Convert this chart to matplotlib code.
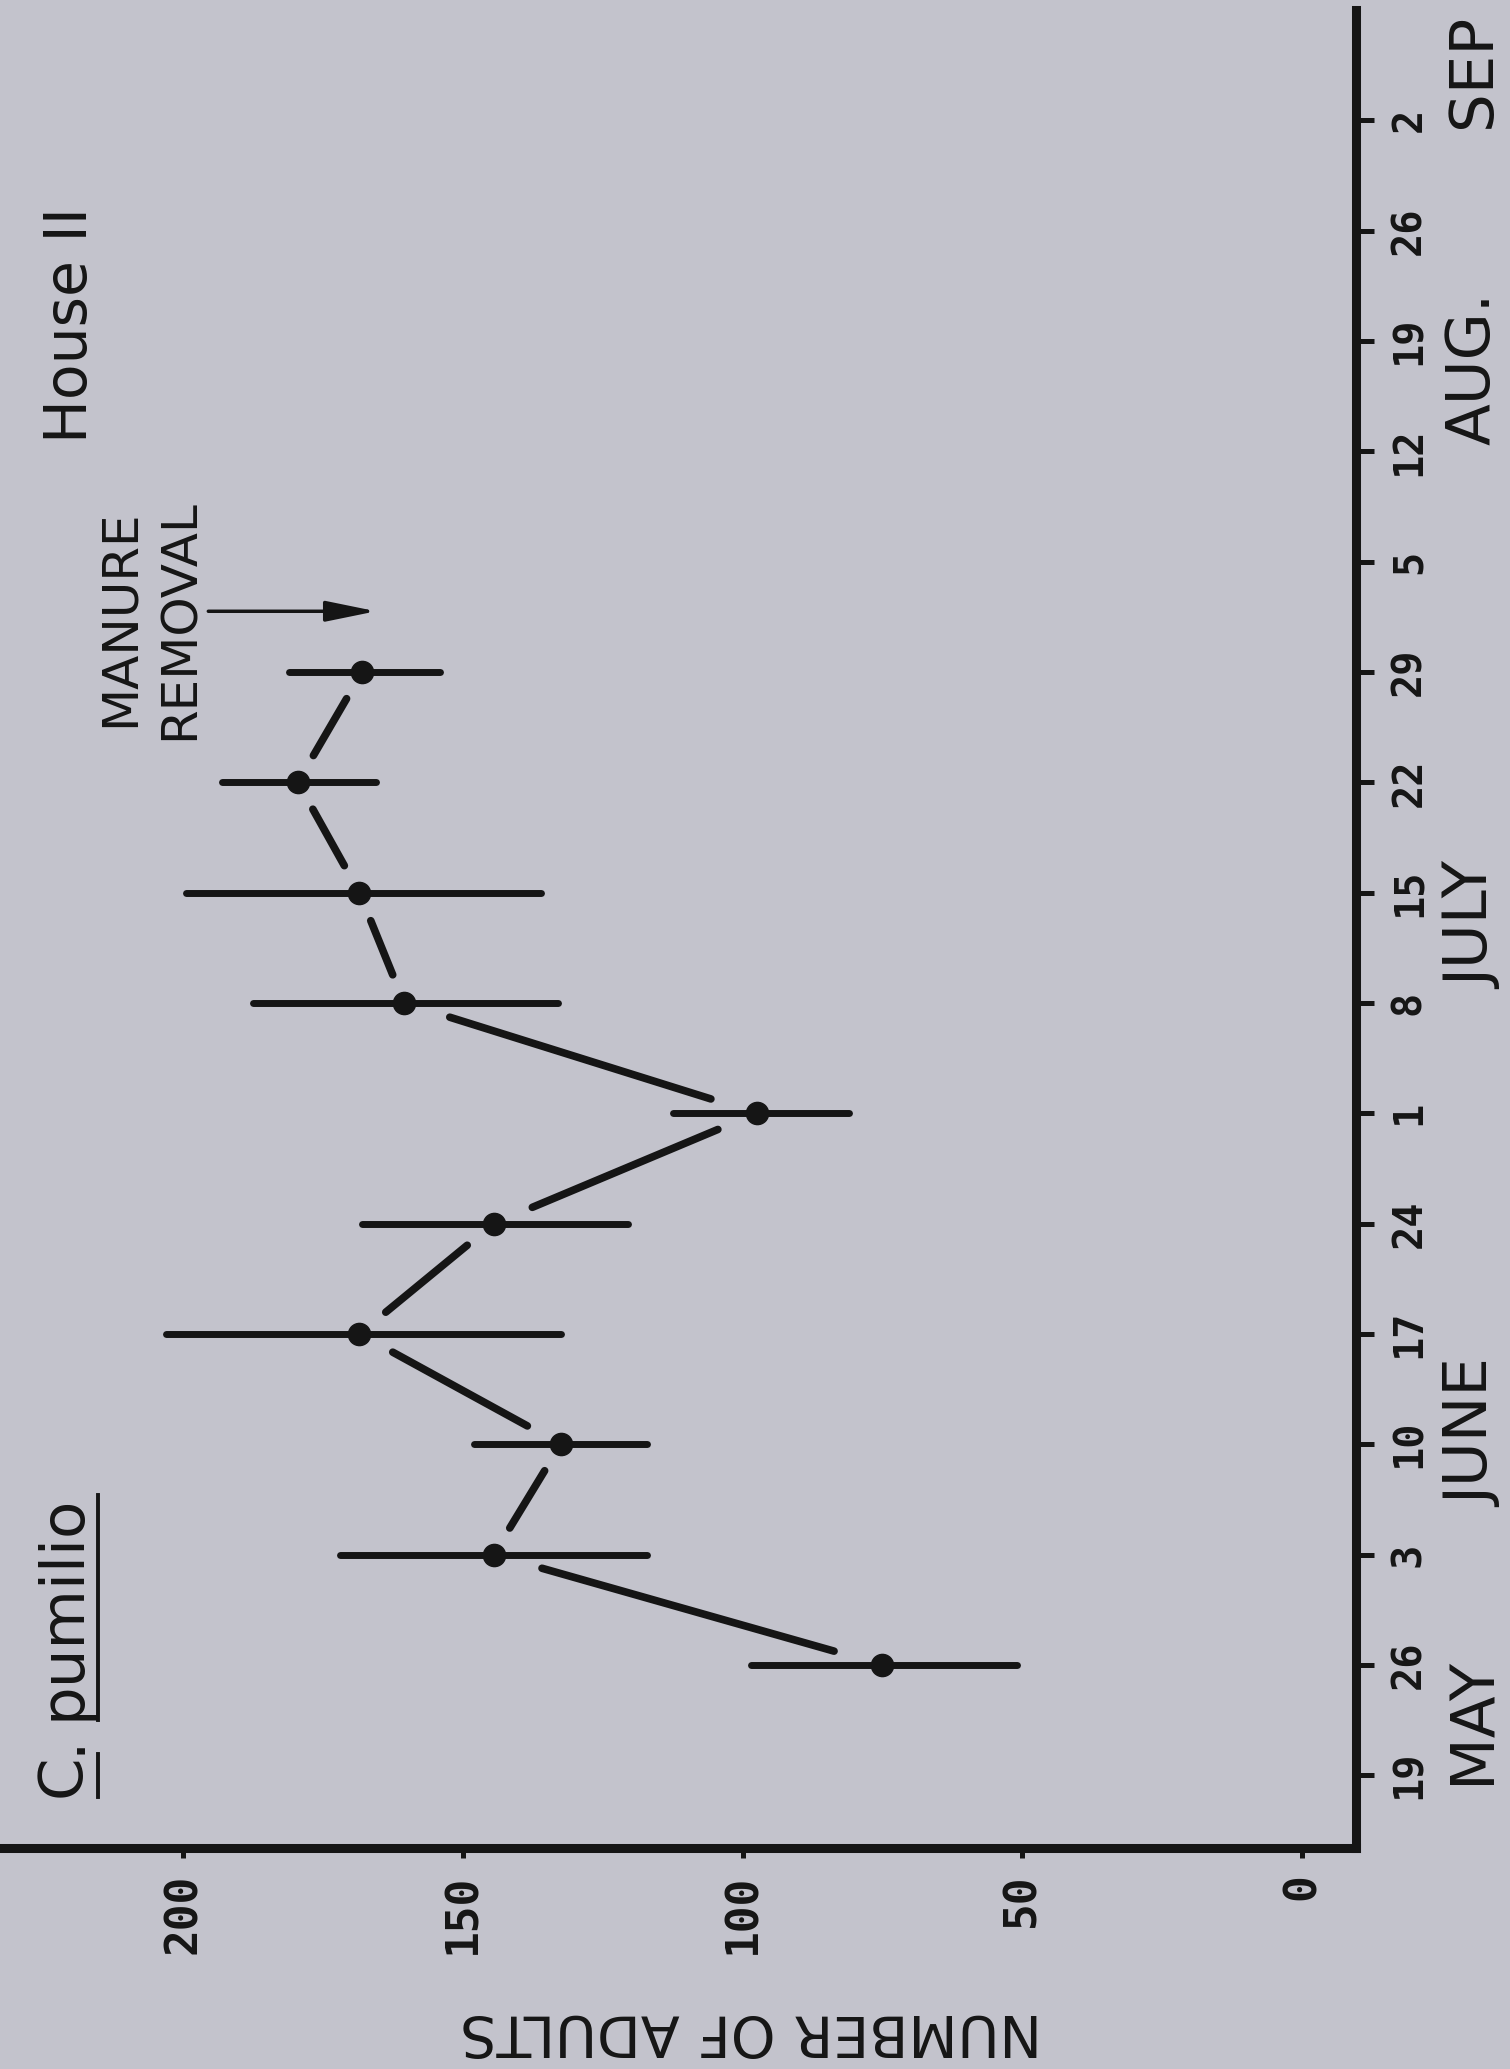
import numpy as np
import matplotlib
matplotlib.use("Agg")
import matplotlib.pyplot as plt
from matplotlib.lines import Line2D
from matplotlib.transforms import blended_transform_factory

# ---------------------------------------------------------------------------
# data (House II, C. pumilio)
# ---------------------------------------------------------------------------
week_labels = ['19', '26', '3', '10', '17', '24', '1', '8', '15', '22', '29',
               '5', '12', '19', '26', '2']
months = ['MAY', 'JUNE', 'JULY', 'AUG.', 'SEP']
month_pos = [0.5, 3.1, 7.7, 12.75, 15.45]

sample_week = np.array([1, 2, 3, 4, 5, 6, 7, 8, 9, 10])
adults = np.array([75, 144.5, 132.5, 168.5, 144.5, 97.5, 160.5, 168.5, 179.5, 168])
adults_low = np.array([51, 117, 117, 132.5, 120.5, 81, 133, 136, 165.5, 154])
adults_high = np.array([98.5, 172, 148, 203, 168, 112.5, 187.5, 199.5, 193, 181])
count_ticks = [0, 50, 100, 150, 200]
removal_week = 10.55

# ---------------------------------------------------------------------------
W, H, DPI = 1510, 2069, 100
BG = '#c3c3cc'
INK = '#151515'


def fx(x):
    return x / W


def fy(y):
    return 1 - y / H


fig = plt.figure(figsize=(W / DPI, H / DPI), dpi=DPI, facecolor=BG)
ax = fig.add_axes([fx(3), fy(1848), fx(1356) - fx(3), fy(10) - fy(1848)])
ax.set_facecolor('none')
ax.set_xlim(232.2, -9.65)
ax.set_ylim(-0.66, 16.0)

# error bars + points
_, _, bars = ax.errorbar(adults, sample_week,
                         xerr=[adults - adults_low, adults_high - adults],
                         fmt='o', ms=16, color=INK, elinewidth=5, capsize=0)
for b in bars:
    b.set_capstyle('round')

# connecting line, broken near each point
pts = ax.transData.transform(np.column_stack([adults, sample_week]))
inv = ax.transData.inverted()
for p0, p1 in zip(pts[:-1], pts[1:]):
    d = p1 - p0
    L = np.hypot(*d)
    u = d / L
    g = 22 + 0.07 * L
    a, b = inv.transform([p0 + g * u, p1 - g * u])
    ax.plot([a[0], b[0]], [a[1], b[1]], color=INK, lw=5.5,
            solid_capstyle='round')

# axes
ax.spines['top'].set_visible(False)
ax.spines['left'].set_visible(False)
for s in ['bottom', 'right']:
    ax.spines[s].set_linewidth(6.5)
    ax.spines[s].set_color(INK)
ax.yaxis.tick_right()
ax.set_xticks(count_ticks)
ax.set_xticklabels([str(v) for v in count_ticks])
ax.set_yticks(range(len(week_labels)))
ax.set_yticklabels(week_labels)
ax.tick_params(axis='x', direction='out', length=7.5, width=3.6, pad=11,
               labelrotation=90, colors=INK)
ax.tick_params(axis='y', direction='out', length=13, width=3.6, pad=11,
               labelrotation=90, colors=INK)
for lab in ax.get_xticklabels():
    lab.set_family('DejaVu Sans Mono')
    lab.set_weight('bold')
    lab.set_fontsize(32)
    lab.set_va('top')
for lab in ax.get_yticklabels():
    lab.set_family('DejaVu Sans Mono')
    lab.set_weight('bold')
    lab.set_fontsize(29)
    lab.set_va('center')

# month names along the date axis
tr = blended_transform_factory(fig.transFigure, ax.transData)
for m, p in zip(months, month_pos):
    fig.text(fx(1490), p, m, transform=tr, rotation=90, rotation_mode='anchor',
             ha='center', va='baseline', fontsize=44, color=INK)

up = dict(rotation=90, rotation_mode='anchor', ha='left', va='baseline',
          color=INK)
fig.text(fx(87), fy(443), 'House II', fontsize=42, **up)
fig.text(fx(134), fy(727), 'MANURE', fontsize=36, **up)
fig.text(fx(194), fy(740), 'REMOVAL', fontsize=36, **up)
ax.annotate('', xy=(165.5, removal_week), xytext=(195.5, removal_week),
            arrowprops=dict(arrowstyle='-|>,head_length=2.2,head_width=0.45',
                            lw=2.5, color=INK, mutation_scale=14,
                            shrinkA=0, shrinkB=0))

# species name, underlined word by word
r = fig.canvas.get_renderer()
tC = fig.text(fx(80), fy(1797), 'C', fontsize=44, **up)
bC = tC.get_window_extent(r)
fig.text(fx(80), bC.y1 / H, '.', fontsize=44, **up)
tp = fig.text(fx(80), fy(1720), 'pumilio', fontsize=44, **up)
bp = tp.get_window_extent(r)
for bb in (bC, bp):
    fig.add_artist(Line2D([fx(98), fx(98)], [bb.y0 / H, bb.y1 / H], lw=2.8,
                          color=INK, transform=fig.transFigure))

fig.text(fx(751), fy(2030), 'NUMBER OF ADULTS', rotation=180, ha='center',
         va='center', fontsize=41, color=INK)

fig.savefig('out.png', dpi=DPI, facecolor=BG)
